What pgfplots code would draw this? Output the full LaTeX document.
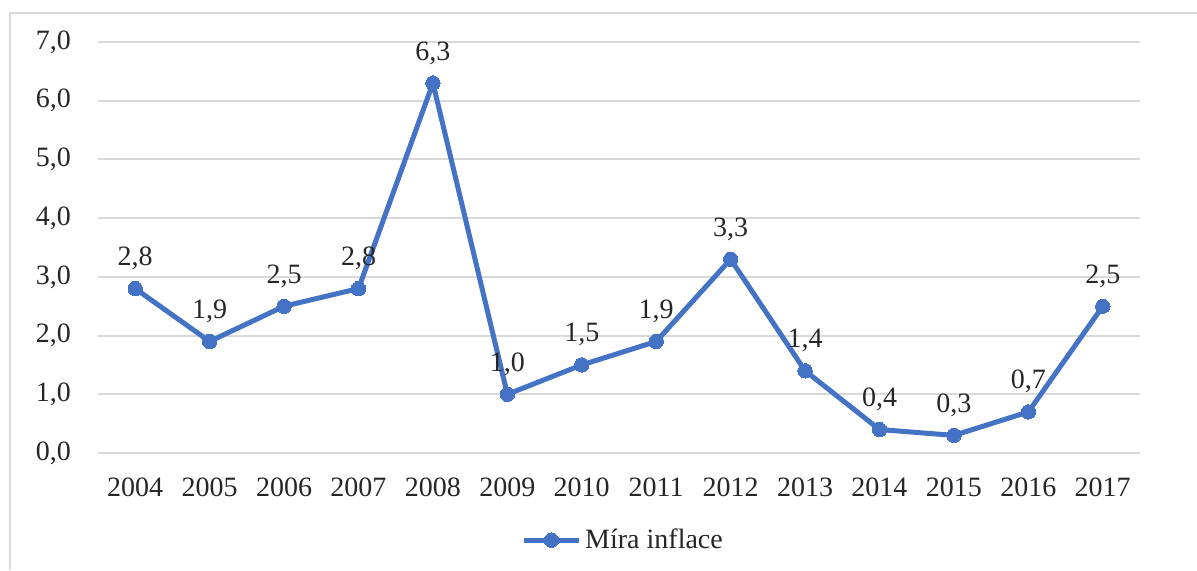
\documentclass[border=0pt]{standalone}
\usepackage{pgfplots}
\pgfplotsset{compat=1.18}
\usepackage{fontspec}
\setmainfont{Liberation Serif}
\definecolor{lineblue}{HTML}{4472C4}
\definecolor{gridgray}{HTML}{D9D9D9}
\definecolor{txt}{HTML}{262626}
\begin{document}
\begin{tikzpicture}[x=1pt,y=1pt]
\path[use as bounding box] (0,0) rectangle (598.5,285);
\draw[gridgray,line width=1pt] (5,0) -- (5,278.5) -- (598.5,278.5);
\begin{axis}[
  at={(49pt,58.5pt)}, anchor=south west,
  scale only axis, width=521pt, height=205.5pt,
  xmin=2003.5, xmax=2017.5, ymin=0, ymax=7,
  xtick={2004,...,2017}, ytick={0,1,...,7},
  axis line style={draw=none},
  major tick length=0pt,
  ymajorgrids, grid style={gridgray, line width=1pt},
  font=\fontsize{14}{16}\selectfont, tick label style={text=txt},
  x tick label style={yshift=-9pt, /pgf/number format/1000 sep={}, /pgf/number format/assume math mode=true},
  y tick label style={xshift=-10pt, /pgf/number format/fixed, /pgf/number format/fixed zerofill, /pgf/number format/precision=1, /pgf/number format/use comma, /pgf/number format/assume math mode=true},
  clip=false,
  nodes near coords={\pgfmathprintnumber[fixed,fixed zerofill,precision=1,use comma,assume math mode=true]{\pgfplotspointmeta}},
  nodes near coords style={text=txt, font=\fontsize{14}{16}\selectfont, yshift=6pt},
  legend style={at={(0.505,-0.212)}, anchor=center, draw=none, fill=none, font=\fontsize{14}{16}\selectfont, text=txt},
  legend image code/.code={\draw[mark repeat=2,mark phase=2,#1] plot coordinates {(0cm,0cm) (0.48cm,0cm) (0.96cm,0cm)};},
]
\addplot[lineblue, line width=2.5pt, mark=*, mark size=3.6pt, mark options={fill=lineblue, draw=lineblue, line width=0pt}]
coordinates {
(2004,2.8) (2005,1.9) (2006,2.5) (2007,2.8) (2008,6.3) (2009,1.0) (2010,1.5)
(2011,1.9) (2012,3.3) (2013,1.4) (2014,0.4) (2015,0.3) (2016,0.7) (2017,2.5)
};
\addlegendentry{Míra inflace}
\end{axis}
\end{tikzpicture}
\end{document}
